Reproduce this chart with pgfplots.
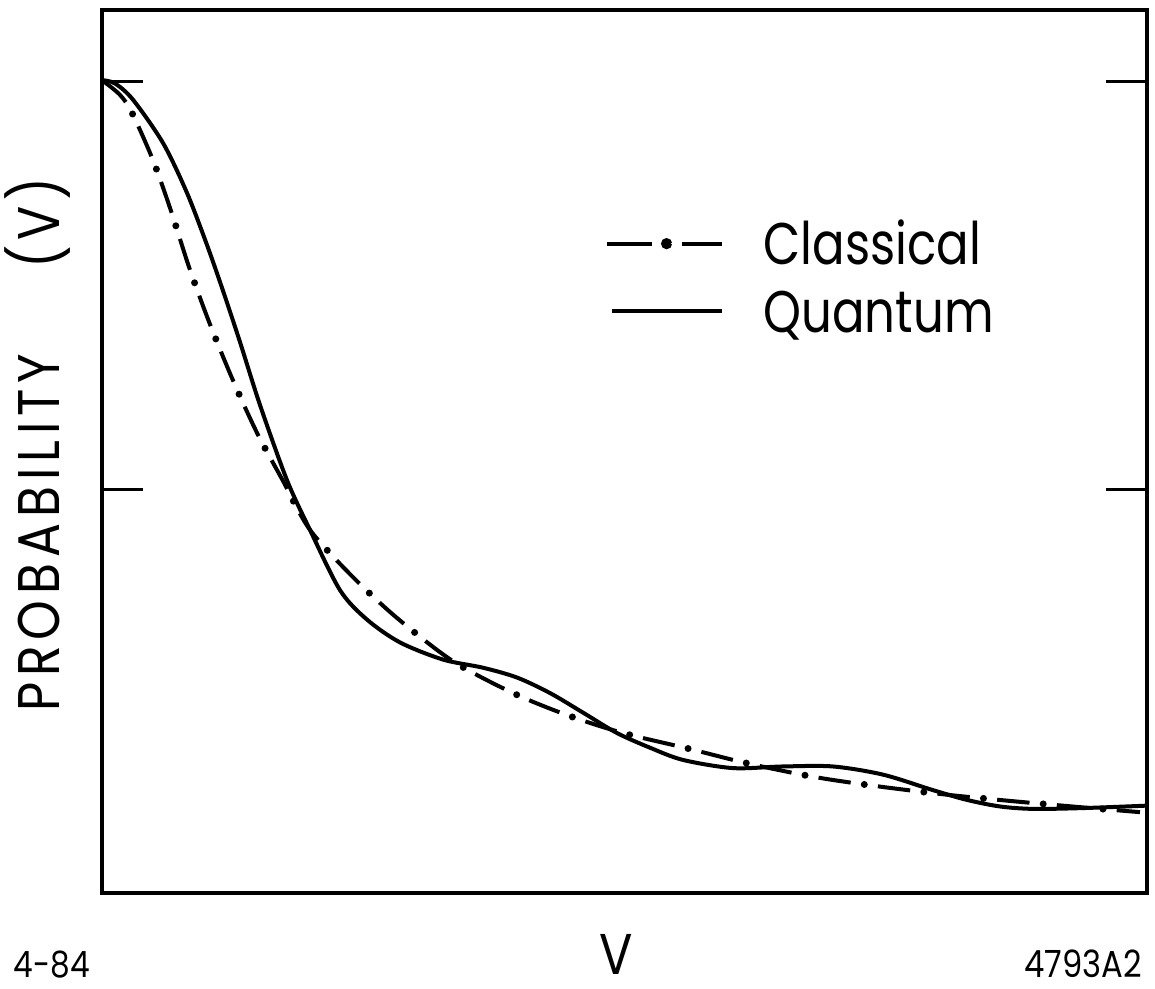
\documentclass[border=0pt]{standalone}
\usepackage{pgfplots}
\pgfplotsset{compat=1.18}
\usepackage{fontspec}
\setmainfont{Poppins}[FakeStretch=0.86]
\newfontfamily\spaced{Poppins}[FakeStretch=0.86, LetterSpace=10]
\newfontfamily\legfont{Poppins}[FakeStretch=0.82]

% quantum (solid) and classical (dash-dot) curves
\pgfplotstableread{
x      y
0.000  1.002
0.124  0.998
0.297  0.978
0.584  0.925
0.813  0.864
1.005  0.800
1.158  0.744
1.321  0.681
1.512  0.604
1.770  0.512
1.990  0.451
2.278  0.377
2.536  0.341
2.852  0.313
3.263  0.292
3.646  0.282
3.971  0.270
4.287  0.251
4.603  0.227
4.928  0.202
5.244  0.184
5.560  0.169
6.038  0.159
6.517  0.161
6.995  0.161
7.474  0.151
7.952  0.132
8.278  0.120
8.593  0.112
8.909  0.109
9.388  0.110
10.00  0.113
}\quantum
\pgfplotstableread{
x      y
0.000  1.002
0.172  0.984
0.287  0.962
0.488  0.904
0.660  0.842
0.833  0.773
1.024  0.706
1.244  0.637
1.483  0.570
1.732  0.511
1.990  0.451
2.402  0.393
2.823  0.343
3.359  0.290
3.933  0.251
4.450  0.224
4.986  0.202
5.608  0.183
6.172  0.165
6.823  0.148
7.464  0.136
8.115  0.126
8.670  0.119
9.282  0.112
9.933  0.105
}\classical

\begin{document}
\begin{tikzpicture}
\begin{axis}[
    scale only axis,
    width=418pt, height=353.2pt,
    xmin=0, xmax=10, ymin=0.006, ymax=1.088,
    clip=false,
    axis line style={line width=1.4pt},
    xtick=\empty,
    ytick={0.5,1}, yticklabels={},
    tick pos=both, tick align=inside,
    major tick length=16.4pt,
    every tick/.style={black, line width=1.2pt},
    xlabel={\fontsize{23}{27}\selectfont V},
    xlabel style={at={(axis description cs:0.492,-0.070)}, anchor=center, inner sep=0pt},
    ylabel={\fontsize{23.5}{28}\spaced PROBABILITY\hspace{34pt}(V)},
    ylabel style={at={(axis description cs:-0.0617,0.508)}, anchor=center, inner sep=0pt},
    legend style={at={(axis description cs:0.4805,0.760)}, anchor=north west,
        draw=none, fill=none, inner sep=0pt, row sep=10pt,
        nodes={inner sep=0pt, anchor=west, text height=17pt, text depth=0pt,
               font=\fontsize{23.5}{28}\legfont}},
    legend cell align=left,
    /tikz/every odd column/.append style={column sep=16pt},
]
\addplot[black, line width=1.6pt, smooth, dash pattern=on 13pt off 11pt,
    legend image code/.code={
        \draw[black, solid, line width=1.6pt] (-2pt,0pt) -- (16pt,0pt);
        \fill[black] (22pt,0pt) circle (1.4pt);
        \draw[black, solid, line width=1.6pt] (28pt,0pt) -- (44pt,0pt);}]
    table {\classical};
\addlegendentry{Classical}
\addplot[black, line width=2.8pt, smooth, line cap=round,
    dash pattern=on 0pt off 24pt, dash phase=5.5pt, forget plot]
    table {\classical};
\addplot[black, line width=1.6pt, smooth,
    legend image code/.code={
        \draw[black, solid, line width=1.6pt] (0pt,0pt) -- (44pt,0pt);}]
    table {\quantum};
\addlegendentry{Quantum}
\coordinate (bl) at (rel axis cs:-0.0976,-0.1087);
\coordinate (tr) at (rel axis cs:1.0077,1.0113);
\node[font=\fontsize{14.5}{18}\selectfont, inner sep=0pt] at (rel axis cs:-0.048,-0.0815) {4-84};
\node[font=\fontsize{15}{18}\selectfont, inner sep=0pt] at (rel axis cs:0.939,-0.080) {4793A2};
\end{axis}
\path (bl) rectangle (tr);
\end{tikzpicture}
\end{document}
